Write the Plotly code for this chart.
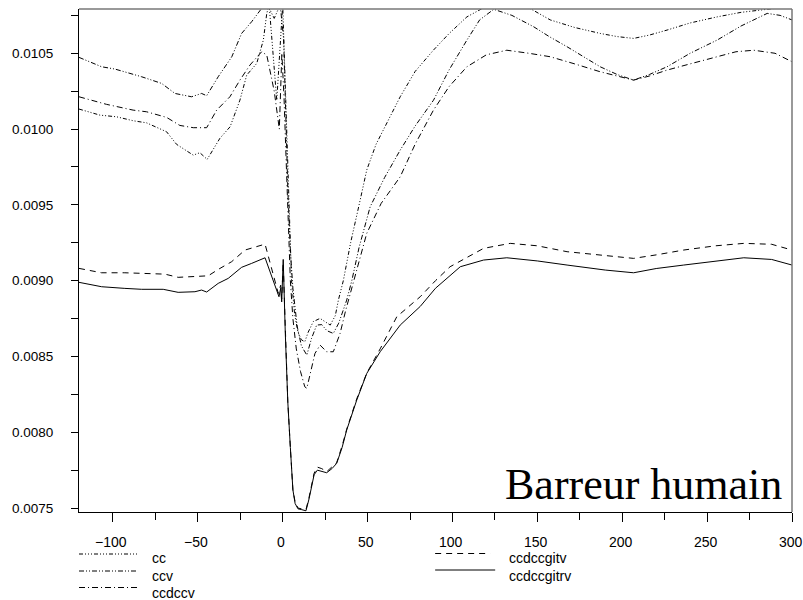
import plotly.graph_objects as go

# ---------------- data ----------------
cc_x = [-120, -107.7, -97.9, -88.1, -80.2, -68.4, -62.5, -52.7, -48.8, -44.5, -37, -31, -25.2, -21.2,
        -15.3, -11.4, -9.4, -8, -3.5, 0, 1.2, 2.5, 3.8, 5.2, 7, 9, 11, 13, 15, 18, 22, 25, 28, 31,
        32.8, 35.7, 40, 45, 49.5, 55, 62, 69.2, 78, 88.8, 98, 108.5, 118.3, 125, 135, 145, 157.6,
        172, 187, 197, 206.7, 216, 226.4, 240, 255.9, 270, 285.4, 293, 300]
cc_y = [0.010132, 0.010092, 0.010081, 0.010055, 0.010041, 0.009982, 0.009899, 0.009828, 0.009844,
        0.009800, 0.009939, 0.010015, 0.010191, 0.010356, 0.010433, 0.010587, 0.010763, 0.010820,
        0.010190, 0.010820, 0.010400, 0.009900, 0.009400, 0.009000, 0.008780, 0.008660, 0.008610,
        0.008597, 0.008660, 0.008730, 0.008751, 0.008730, 0.008707, 0.008770, 0.008872, 0.009000,
        0.009250, 0.009500, 0.009730, 0.009900, 0.010050, 0.010213, 0.010380, 0.010521, 0.010630,
        0.010740, 0.010800, 0.010830, 0.010830, 0.010800, 0.010720, 0.010670, 0.010631, 0.010610,
        0.010598, 0.010620, 0.010653, 0.010700, 0.010740, 0.010770, 0.010790, 0.010800, 0.010800]

ccv_x = [-120, -106.7, -98.9, -83.1, -71.3, -63.5, -53.7, -47.8, -44.8, -38, -30, -24.2, -18.3,
         -12.4, -9, -5, -1.5, 0.5, 1.8, 3, 4.5, 6, 8.5, 11, 14.2, 17, 20, 23, 26, 29.8, 33, 37.7,
         40.7, 45, 51.5, 60, 69.2, 78, 88.8, 98, 108.5, 116, 124.3, 135, 147.8, 157, 167.5, 178,
         187, 197, 206.7, 216, 226.4, 240, 255.9, 270, 285.4, 293, 300]
ccv_y = [0.010473, 0.010411, 0.010396, 0.010345, 0.010301, 0.010235, 0.010213, 0.010235, 0.010220,
         0.010345, 0.010477, 0.010631, 0.010708, 0.010796, 0.010820, 0.010730, 0.010820, 0.010600,
         0.010100, 0.009600, 0.009200, 0.008950, 0.008700, 0.008570, 0.008509, 0.008620, 0.008707,
         0.008710, 0.008670, 0.008652, 0.008720, 0.008872, 0.009000, 0.009220, 0.009487, 0.009680,
         0.009861, 0.010020, 0.010190, 0.010390, 0.010587, 0.010720, 0.010790, 0.010750, 0.010675,
         0.010610, 0.010543, 0.010470, 0.010411, 0.010360, 0.010323, 0.010360, 0.010411, 0.010500,
         0.010587, 0.010680, 0.010763, 0.010750, 0.010720]

ccdccv_x = [-120, -103.8, -88.1, -80.2, -68.4, -60.6, -52.7, -44.8, -38.9, -31.1, -25.2, -19.3,
            -12.4, -9.4, -5, -2, -0.5, 0.8, 2, 3.2, 4.5, 6, 8, 10.5, 13, 14.2, 16, 19, 22, 25.9,
            29.8, 33.8, 37, 41.5, 45, 49.5, 58, 69.2, 78, 88.8, 98, 108.5, 120, 132, 145, 157.6,
            172, 187, 197, 206.7, 216, 226.4, 240, 255.9, 267, 277.5, 290, 300]
ccdccv_y = [0.010213, 0.010163, 0.010125, 0.010114, 0.010077, 0.010024, 0.010009, 0.010009,
            0.010125, 0.010213, 0.010323, 0.010422, 0.010510, 0.010488, 0.010250, 0.010000,
            0.010500, 0.010200, 0.009800, 0.009400, 0.009000, 0.008750, 0.008550, 0.008400,
            0.008300, 0.008290, 0.008380, 0.008520, 0.008575, 0.008531, 0.008531, 0.008652,
            0.008800, 0.008984, 0.009130, 0.009312, 0.009510, 0.009685, 0.009900, 0.010125,
            0.010280, 0.010411, 0.010490, 0.010520, 0.010500, 0.010477, 0.010430, 0.010378,
            0.010350, 0.010323, 0.010350, 0.010389, 0.010430, 0.010477, 0.010510, 0.010520,
            0.010500, 0.010444]

ccdccgitv_x = [-120, -106.7, -93, -69.4, -61.6, -49.8, -43.9, -38, -30.1, -22.2, -10.4, -2.6, -1.2,
               -0.6, 0.3, 1.5, 3, 4.5, 6, 7.3, 9, 11, 13.7, 15.5, 17.1, 18.5, 20.4, 23, 25.9, 29,
               31.8, 35, 37.7, 43.6, 49.5, 57.4, 67.2, 81, 90, 98.6, 118.3, 134, 150, 167.5, 190,
               206.7, 220, 236.2, 255, 271.6, 288, 300]
ccdccgitv_y = [0.009081, 0.009052, 0.009052, 0.009043, 0.009022, 0.009026, 0.009032, 0.009074,
               0.009125, 0.009202, 0.009241, 0.008916, 0.008970, 0.008880, 0.009120, 0.008700,
               0.008200, 0.007900, 0.007620, 0.007540, 0.007500, 0.007495, 0.007490, 0.007570,
               0.007660, 0.007730, 0.007770, 0.007760, 0.007740, 0.007770, 0.007800, 0.007910,
               0.008020, 0.008220, 0.008390, 0.008550, 0.008762, 0.008894, 0.009000, 0.009092,
               0.009213, 0.009246, 0.009230, 0.009191, 0.009165, 0.009147, 0.009170, 0.009202,
               0.009230, 0.009246, 0.009240, 0.009202]

ccdccgitrv_x = [-120, -106.7, -93, -83.1, -70.4, -61.6, -51.7, -47.8, -44.8, -38, -32.1, -24.2,
                -18.3, -10.4, -2.2, -1.2, -0.6, 0.3, 1.5, 3, 4.5, 6, 7.3, 9, 11, 13.7, 15.5, 17.1,
                18.5, 20.4, 23, 25.9, 29, 31.8, 35, 37.7, 43.6, 49.5, 57.4, 69.2, 81, 90, 104.6,
                118.3, 132, 150, 167.5, 190, 206.7, 220, 236.2, 255, 271.6, 288, 300]
ccdccgitrv_y = [0.008989, 0.008960, 0.008949, 0.008943, 0.008943, 0.008923, 0.008927, 0.008938,
                0.008925, 0.008982, 0.009015, 0.009088, 0.009114, 0.009151, 0.008894, 0.008950,
                0.008860, 0.009140, 0.008660, 0.008200, 0.007900, 0.007620, 0.007530, 0.007495,
                0.007490, 0.007482, 0.007560, 0.007640, 0.007720, 0.007750, 0.007740, 0.007733,
                0.007760, 0.007795, 0.007900, 0.008015, 0.008212, 0.008388, 0.008531, 0.008707,
                0.008830, 0.008950, 0.009092, 0.009136, 0.009151, 0.009130, 0.009103, 0.009070,
                0.009052, 0.009080, 0.009103, 0.009130, 0.009151, 0.009140, 0.009103]

series_names = ["cc", "ccv", "ccdccv", "ccdccgitv", "ccdccgitrv"]
series_x = [cc_x, ccv_x, ccdccv_x, ccdccgitv_x, ccdccgitrv_x]
series_y = [cc_y, ccv_y, ccdccv_y, ccdccgitv_y, ccdccgitrv_y]

x_ticks = [-100, -50, 0, 50, 100, 150, 200, 250, 300]
x_tick_labels = ["\u2212100", "\u221250", "0", "50", "100", "150", "200", "250", "300"]
y_ticks = [0.0075, 0.0080, 0.0085, 0.0090, 0.0095, 0.0100, 0.0105]
y_tick_labels = ["0.0075", "0.0080", "0.0085", "0.0090", "0.0095", "0.0100", "0.0105"]
title_text = "Barreur humain"

# ---------------- styles ----------------
dashes = {
    "cc": "4px,2px,1px,2px,1px,2px,1px,2px",
    "ccv": "5px,2px,1px,2px,1px,2px",
    "ccdccv": "6px,3px,1px,3px",
    "ccdccgitv": "6px,5px",
    "ccdccgitrv": "solid",
}
SANS = "Liberation Sans, Arial"

# page body margin is removed below, so the figure fills the window exactly
OFF = 0
W, H = 803 - OFF, 600 - OFF
L, T = 79 - OFF, 9 - OFF
R = W - (791.7 - OFF)
B = H - (512 - OFF)
pw, ph = W - L - R, H - T - B


def pxx(px):
    """reference-window pixel x -> paper coordinate"""
    return (px - OFF - L) / pw


def pxy(py):
    """reference-window pixel y -> paper coordinate"""
    return (H - B - (py - OFF)) / ph


fig = go.Figure()
for name, xs, ys in zip(series_names, series_x, series_y):
    fig.add_trace(go.Scatter(x=xs, y=ys, mode="lines", name=name, showlegend=False,
                             line=dict(color="black", width=1, dash=dashes[name])))

shapes = [
    dict(type="line", xref="paper", yref="paper", x0=0, x1=1, y0=1, y1=1,
         line=dict(color="#777777", width=1.5)),
    dict(type="line", xref="paper", yref="paper", x0=1, x1=1, y0=0, y1=1,
         line=dict(color="#777777", width=1.5)),
]
annotations = []

# x tick labels, placed on the x axis scale
for v, lab in zip(x_ticks, x_tick_labels):
    annotations.append(dict(xref="x", yref="paper", x=v, y=pxy(532), text=lab,
                            showarrow=False, xanchor="center", yanchor="top", xshift=-1.5,
                            font=dict(family=SANS, size=14, color="black")))

# manual legend
legend_pos = {
    "cc": (79, 138, 554, 150, 558),
    "ccv": (79, 138, 571, 150, 576),
    "ccdccv": (79, 138, 587.5, 150, 593),
    "ccdccgitv": (435, 490, 553.5, 507, 558),
    "ccdccgitrv": (435, 495, 570, 507, 576),
}
for name in series_names:
    lx0, lx1, ly, tx, ty = legend_pos[name]
    shapes.append(dict(type="line", xref="paper", yref="paper",
                       x0=pxx(lx0), x1=pxx(lx1), y0=pxy(ly), y1=pxy(ly),
                       line=dict(color="black", width=1, dash=dashes[name])))
    annotations.append(dict(xref="paper", yref="paper", x=pxx(tx), y=pxy(ty), text=name,
                            showarrow=False, xanchor="left", yanchor="middle",
                            font=dict(family=SANS, size=14, color="black")))

annotations.append(dict(xref="paper", yref="paper", x=pxx(784), y=pxy(484), text=title_text,
                        showarrow=False, xanchor="right", yanchor="middle",
                        font=dict(family="Liberation Serif, Times New Roman", size=44,
                                  color="black")))

fig.update_layout(
    width=W, height=H,
    margin=dict(l=L, r=R, t=T, b=B, pad=0, autoexpand=False),
    paper_bgcolor="white", plot_bgcolor="white",
    showlegend=False,
    shapes=shapes, annotations=annotations,
    font=dict(family=SANS, size=14, color="black"),
)
fig.update_xaxes(
    range=[-120, 300], tickvals=x_ticks, showticklabels=False,
    showgrid=False, zeroline=False, showline=True, linecolor="black", linewidth=1,
    ticks="outside", ticklen=9, tickcolor="black", tickwidth=1,
    minor=dict(ticks="outside", ticklen=7, tickcolor="black", dtick=25, tick0=0, showgrid=False),
)
fig.update_yaxes(
    range=[0.007474, 0.010792], tickvals=y_ticks, ticktext=y_tick_labels,
    showgrid=False, zeroline=False, showline=True, linecolor="black", linewidth=1,
    ticks="outside", ticklen=7, tickcolor="black", tickwidth=1, ticklabelstandoff=15,
    tickfont=dict(size=13.5),
    minor=dict(ticks="outside", ticklen=7, tickcolor="black", dtick=0.00025, tick0=0.0075,
               showgrid=False),
)

fig.write_html("out.html",
               config={"displayModeBar": False},
               post_script="document.body.style.margin='0px';"
                           "document.body.style.overflow='hidden';")
